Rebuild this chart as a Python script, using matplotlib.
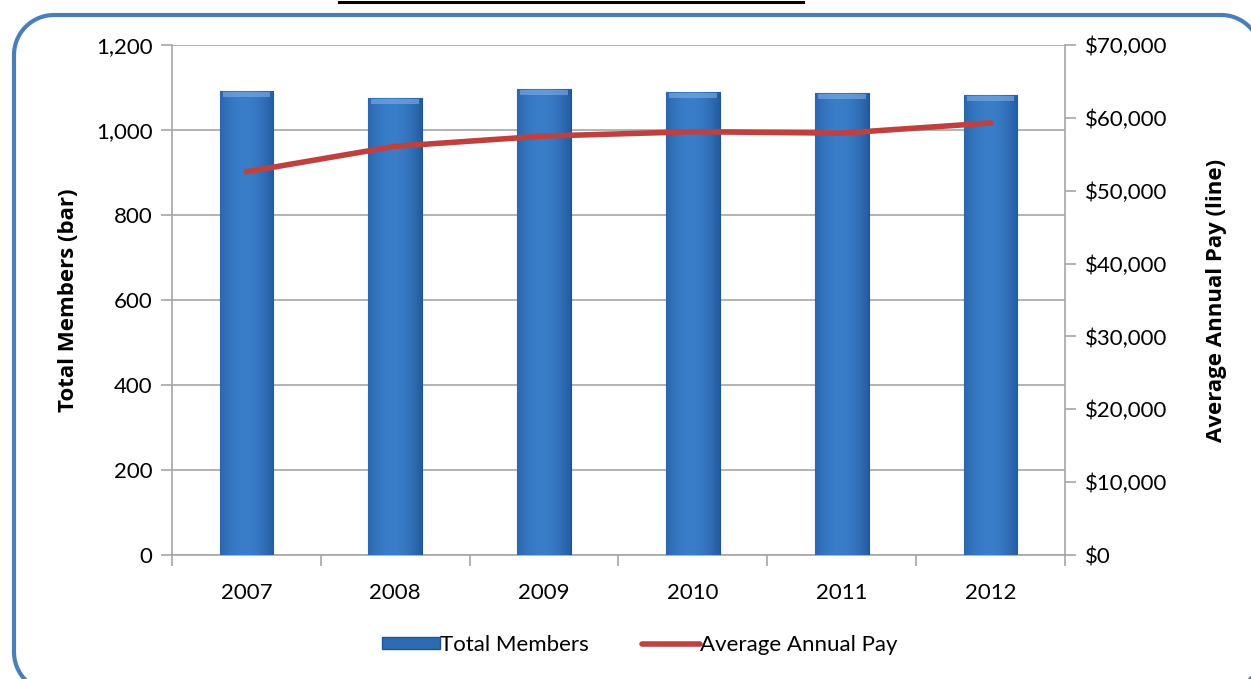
import matplotlib
matplotlib.use("Agg")
import matplotlib.pyplot as plt
import numpy as np
from matplotlib.patches import Rectangle
from matplotlib.lines import Line2D
from matplotlib.ticker import FuncFormatter, MultipleLocator

years = ["2007", "2008", "2009", "2010", "2011", "2012"]
total_members = [1091, 1075, 1097, 1089, 1087, 1083]
avg_pay = [52600, 56100, 57500, 58100, 57900, 59300]

plt.rcParams['font.family'] = ['Lato', 'DejaVu Sans']

W, H = 1251, 679
fig = plt.figure(figsize=(W / 100, H / 100), dpi=100)

# overlay axes in pixel coordinates for border and cropped title underline
bg = fig.add_axes([0, 0, 1, 1], zorder=-1)
bg.set_xlim(0, W)
bg.set_ylim(H, 0)
bg.axis("off")


def rounded_rect(x0, y0, x1, y1, r, n=30):
    pts = []
    corners = [(x1 - r, y0 + r, -90, 0), (x1 - r, y1 - r, 0, 90),
               (x0 + r, y1 - r, 90, 180), (x0 + r, y0 + r, 180, 270)]
    for cx, cy, a0, a1 in corners:
        t = np.radians(np.linspace(a0, a1, n))
        pts.append(np.column_stack([cx + r * np.cos(t), cy + r * np.sin(t)]))
    pts = np.vstack(pts)
    return np.vstack([pts, pts[:1]])


bp = rounded_rect(14, 15, 1261, 692, 40)
bg.plot(bp[:, 0], bp[:, 1], color="#4A7EBB", linewidth=3.0, solid_capstyle="round")
bg.plot([339, 803], [2, 2], color="black", linewidth=2.2)

left, right, top, bottom = 172, 1065, 45, 555
ax = fig.add_axes([left / W, 1 - bottom / H, (right - left) / W, (bottom - top) / H])
ax.patch.set_alpha(0)
x = np.arange(len(years))
bars = ax.bar(x, total_members, width=0.36, color="#2E6BB3", edgecolor="#1F5597",
              linewidth=0.8, zorder=3)

# gradient fill inside bars
grad = np.linspace(0, 1, 64)
prof = 1 - 0.6 * (np.abs(grad - 0.45) * 2) ** 2
c_dark = np.array([0x1B, 0x4F, 0x92]) / 255
c_light = np.array([0x3A, 0x7D, 0xC8]) / 255
img = c_dark[None, :] + (c_light - c_dark)[None, :] * prof[:, None]
img = img[None, :, :]
for b in bars:
    x0, y0 = b.get_x(), b.get_y()
    w, h = b.get_width(), b.get_height()
    im = ax.imshow(img, extent=[x0, x0 + w, y0, y0 + h], aspect="auto", zorder=3.1,
                   interpolation="bilinear")
    im.set_clip_path(b)
    ax.add_patch(Rectangle((x0 + 0.02, y0 + h - 14), w - 0.04, 12, facecolor="#7FB0E3",
                           edgecolor="none", alpha=0.6, zorder=3.2))

ax.set_xlim(-0.5, len(years) - 0.5)
ax.set_ylim(0, 1200)
ax.yaxis.set_major_locator(MultipleLocator(200))
ax.yaxis.set_major_formatter(FuncFormatter(lambda v, p: f"{int(v):,}"))
ax.grid(axis="y", color="#A6A6A6", linewidth=1.2, zorder=0)
ax.set_xticks(x)
ax.set_xticklabels(years)
ax.set_xticks(np.arange(-0.5, len(years)), minor=True)
ax.tick_params(axis="x", which="major", length=0, pad=20, labelsize=16)
ax.tick_params(axis="x", which="minor", length=8, color="#A6A6A6", width=1.2)
ax.tick_params(axis="y", length=8, color="#A6A6A6", width=1.2, labelsize=16, pad=6)
for s in ["top", "right"]:
    ax.spines[s].set_visible(False)
for s in ["left", "bottom"]:
    ax.spines[s].set_color("#A6A6A6")
    ax.spines[s].set_linewidth(1.2)
ax.set_ylabel("Total Members (bar)", fontsize=16, fontweight="bold", labelpad=12,
              family=["Open Sans", "DejaVu Sans"])

ax2 = ax.twinx()
ax2.set_ylim(0, 70000)
ax2.yaxis.set_major_locator(MultipleLocator(10000))
ax2.yaxis.set_major_formatter(FuncFormatter(lambda v, p: f"${int(v):,}"))
ax2.plot(x, avg_pay, color="#C0403E", linewidth=4, solid_capstyle="round", zorder=5)
ax2.tick_params(axis="y", length=8, color="#A6A6A6", width=1.2, labelsize=16, pad=6)
for s in ["top", "left", "bottom"]:
    ax2.spines[s].set_visible(False)
ax2.spines["right"].set_color("#A6A6A6")
ax2.spines["right"].set_linewidth(1.2)
ax2.set_ylabel("Average Annual Pay (line)", fontsize=16, fontweight="bold", labelpad=28,
               family=["Open Sans", "DejaVu Sans"])

handles = [Rectangle((0, 0), 1, 1, facecolor="#2E6BB3", edgecolor="#1F5597"),
           Line2D([0], [0], color="#C0403E", linewidth=4, solid_capstyle="round")]
fig.legend(handles, ["Total Members", "Average Annual Pay"], loc="center",
           bbox_to_anchor=(640 / W, 1 - 645 / H), ncol=2, frameon=False, fontsize=16,
           handlelength=2.6, handleheight=0.5, handletextpad=0.0, columnspacing=2.4)

fig.savefig("out.png", dpi=100)
